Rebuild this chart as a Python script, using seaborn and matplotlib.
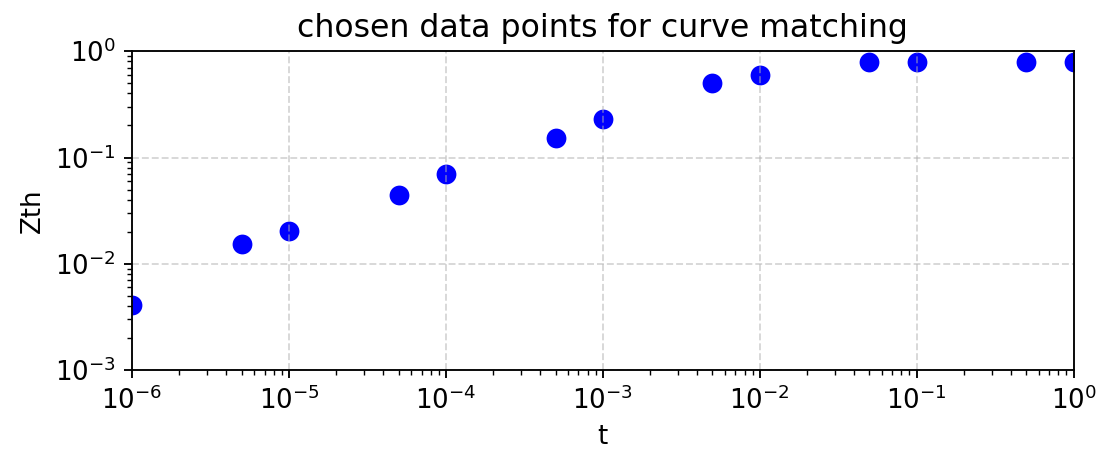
import matplotlib
matplotlib.use("Agg")
import matplotlib.pyplot as plt
import seaborn as sns
import pandas as pd

t_values = [1e-6, 5e-6, 1e-5, 5e-5, 1e-4, 5e-4, 1e-3, 5e-3, 1e-2, 5e-2, 1e-1, 5e-1, 1.0]
zth_values = [0.0041, 0.0153, 0.0203, 0.0443, 0.0698, 0.152, 0.23, 0.50, 0.596, 0.79, 0.79, 0.79, 0.79]

df = pd.DataFrame({"t": t_values, "Zth": zth_values})

dpi = 168
fig = plt.figure(figsize=(1100 / dpi, 461 / dpi), dpi=dpi)
ax = fig.add_axes([0.12, 0.197, 0.856, 0.692])

sns.scatterplot(data=df, x="t", y="Zth", ax=ax, color="blue", s=72, linewidth=0)
ax.set_xscale("log")
ax.set_yscale("log")
ax.set_xlim(1e-6, 1)
ax.set_ylim(1e-3, 1)
ax.grid(True, which="major", linestyle="--", color="#b0b0b0", alpha=0.5)
ax.tick_params(labelsize=11.2)
ax.set_title("chosen data points for curve matching", fontsize=13.5)
ax.set_xlabel("t", fontsize=11.2)
ax.set_ylabel("Zth", fontsize=11.2)

fig.savefig("out.png", dpi=dpi)
